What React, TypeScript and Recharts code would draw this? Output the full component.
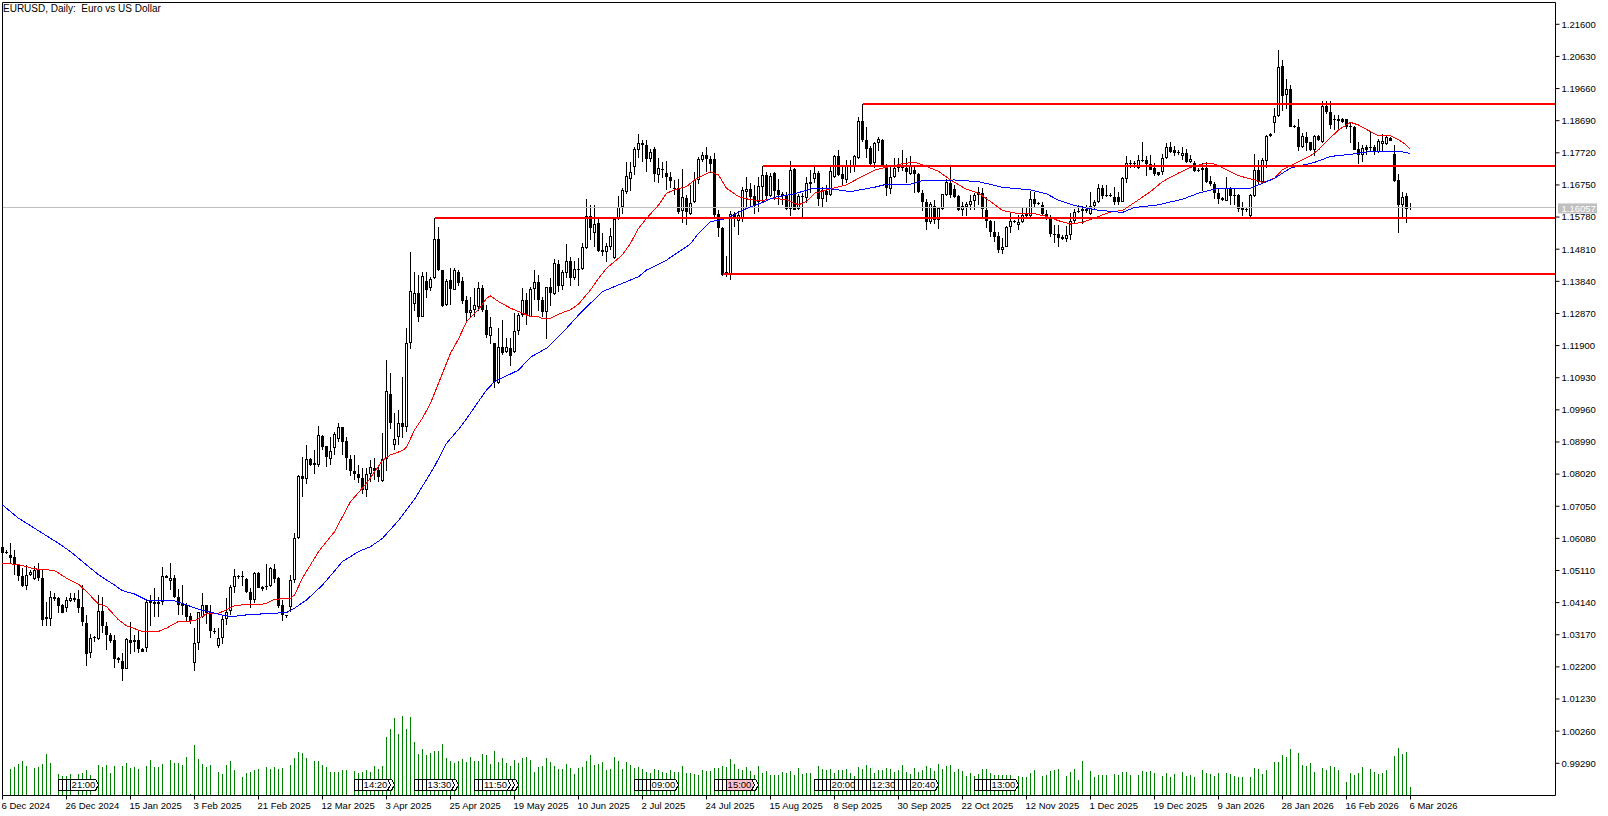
import React from 'react';
import { ComposedChart, Bar, Line, XAxis, YAxis, ReferenceLine, ReferenceDot } from 'recharts';

const FONT = '"Liberation Sans", Arial, sans-serif';

const opens = [
  1.0583,1.0568,1.0558,1.0551,1.0527,1.0495,1.0465,1.0497,1.0485,1.0511,
  1.0487,1.0372,1.0366,1.0431,1.0427,1.0407,1.0399,1.0420,1.0427,1.0426,
  1.0400,1.0352,1.0261,1.0310,1.0303,1.0389,1.0344,1.0315,1.0301,1.0246,
  1.0237,1.0215,1.0301,1.0301,1.0301,1.0275,1.0278,1.0422,1.0417,1.0417,
  1.0417,1.0495,1.0478,1.0488,1.0430,1.0412,1.0407,1.0374,1.0231,1.0293,
  1.0370,1.0406,1.0387,1.0329,1.0284,1.0307,1.0364,1.0390,1.0462,1.0494,
  1.0491,1.0486,1.0447,1.0422,1.0503,1.0460,1.0463,1.0464,1.0516,1.0488,
  1.0406,1.0376,1.0402,1.0483,1.0608,1.0795,1.0787,1.0848,1.0829,1.0831,
  1.0917,1.0887,1.0849,1.0880,1.0909,1.0943,1.0902,1.0848,1.0812,1.0802,
  1.0790,1.0753,1.0802,1.0821,1.0815,1.0781,1.0847,1.1044,1.0891,1.0913,
  1.0955,1.0943,1.1197,1.1315,1.1348,1.1277,1.1385,1.1363,1.1395,1.1512,
  1.1418,1.1314,1.1388,1.1359,1.1412,1.1384,1.1328,1.1288,1.1298,1.1308,
  1.1365,1.1298,1.1220,1.1197,1.1076,1.1185,1.1170,1.1183,1.1172,1.1233,
  1.1281,1.1328,1.1277,1.1362,1.1381,1.1328,1.1290,1.1366,1.1346,1.1435,
  1.1371,1.1410,1.1444,1.1395,1.1419,1.1420,1.1484,1.1581,1.1531,1.1559,
  1.1478,1.1474,1.1489,1.1453,1.1571,1.1607,1.1655,1.1693,1.1728,1.1782,
  1.1801,1.1796,1.1753,1.1785,1.1705,1.1722,1.1710,1.1700,1.1667,1.1665,
  1.1596,1.1637,1.1587,1.1625,1.1690,1.1750,1.1765,1.1752,1.1753,1.1586,
  1.1544,1.1403,1.1406,1.1586,1.1567,1.1571,1.1655,1.1663,1.1642,1.1625,
  1.1670,1.1705,1.1642,1.1712,1.1660,1.1648,1.1645,1.1602,1.1724,1.1602,
  1.1643,1.1635,1.1683,1.1692,1.1710,1.1633,1.1657,1.1645,1.1700,1.1763,
  1.1708,1.1690,1.1736,1.1729,1.1756,1.1867,1.1811,1.1786,1.1741,1.1801,
  1.1811,1.1736,1.1664,1.1698,1.1729,1.1729,1.1726,1.1708,1.1721,1.1708,
  1.1650,1.1623,1.1562,1.1610,1.1568,1.1603,1.1645,1.1680,1.1663,1.1642,
  1.1598,1.1607,1.1615,1.1627,1.1645,1.1652,1.1600,1.1565,1.1534,1.1521,
  1.1479,1.1489,1.1547,1.1567,1.1553,1.1563,1.1582,1.1582,1.1632,1.1620,
  1.1615,1.1587,1.1577,1.1526,1.1527,1.1519,1.1513,1.1523,1.1565,1.1597,
  1.1595,1.1601,1.1588,1.1610,1.1622,1.1665,1.1646,1.1646,1.1640,1.1638,
  1.1625,1.1692,1.1737,1.1740,1.1727,1.1751,1.1751,1.1739,1.1725,1.1713,
  1.1713,1.1755,1.1789,1.1780,1.1775,1.1761,1.1771,1.1743,1.1741,1.1721,
  1.1719,1.1727,1.1687,1.1678,1.1650,1.1635,1.1628,1.1665,1.1646,1.1645,
  1.1605,1.1601,1.1580,1.1643,1.1721,1.1685,1.1746,1.1823,1.1861,1.1882,
  1.2033,1.1946,1.1964,1.1853,1.1849,1.1789,1.1821,1.1804,1.1779,1.1823,
  1.1806,1.1914,1.1896,1.1874,1.1874,1.1875,1.1874,1.1853,1.1849,1.1783,
  1.1766,1.1789,1.1791,1.1791,1.1773,1.1799,1.1799,1.1818,1.1769,1.1690,1.1614,1.1641,1.1608,
];

const closes = [
  1.0563,1.0563,1.0548,1.0527,1.0493,1.0464,1.0497,1.0505,1.0511,1.0488,
  1.0362,1.0364,1.0430,1.0424,1.0404,1.0384,1.0422,1.0427,1.0422,1.0399,
  1.0356,1.0260,1.0307,1.0306,1.0389,1.0344,1.0315,1.0298,1.0245,1.0241,
  1.0215,1.0303,1.0293,1.0296,1.0275,1.0266,1.0416,1.0412,1.0410,1.0410,
  1.0495,1.0488,1.0488,1.0430,1.0407,1.0404,1.0372,1.0358,1.0293,1.0386,
  1.0406,1.0382,1.0328,1.0327,1.0307,1.0364,1.0387,1.0460,1.0494,1.0491,
  1.0495,1.0447,1.0422,1.0503,1.0459,1.0456,1.0465,1.0518,1.0486,1.0404,
  1.0377,1.0374,1.0483,1.0608,1.0795,1.0787,1.0847,1.0830,1.0835,1.0919,
  1.0885,1.0853,1.0873,1.0923,1.0943,1.0900,1.0850,1.0810,1.0801,1.0789,
  1.0754,1.0802,1.0823,1.0811,1.0792,1.0847,1.1052,1.0955,1.0907,1.0955,
  1.0945,1.1197,1.1356,1.1348,1.1277,1.1400,1.1358,1.1390,1.1511,1.1418,
  1.1310,1.1384,1.1360,1.1418,1.1380,1.1326,1.1288,1.1298,1.1312,1.1365,
  1.1296,1.1222,1.1245,1.1081,1.1185,1.1169,1.1185,1.1160,1.1233,1.1282,
  1.1327,1.1282,1.1360,1.1381,1.1328,1.1290,1.1366,1.1348,1.1438,1.1371,
  1.1413,1.1444,1.1393,1.1420,1.1420,1.1487,1.1581,1.1544,1.1556,1.1476,
  1.1474,1.1490,1.1520,1.1571,1.1607,1.1660,1.1702,1.1713,1.1785,1.1803,
  1.1797,1.1752,1.1773,1.1707,1.1725,1.1720,1.1700,1.1688,1.1663,1.1594,
  1.1638,1.1594,1.1619,1.1690,1.1752,1.1765,1.1752,1.1738,1.1584,1.1544,
  1.1403,1.1413,1.1586,1.1574,1.1584,1.1660,1.1663,1.1640,1.1614,1.1673,
  1.1705,1.1642,1.1702,1.1658,1.1645,1.1642,1.1602,1.1721,1.1600,1.1642,
  1.1638,1.1680,1.1678,1.1710,1.1633,1.1660,1.1645,1.1718,1.1763,1.1705,
  1.1692,1.1736,1.1733,1.1763,1.1867,1.1811,1.1784,1.1739,1.1801,1.1813,
  1.1736,1.1665,1.1698,1.1726,1.1725,1.1725,1.1713,1.1736,1.1708,1.1655,
  1.1622,1.1562,1.1617,1.1568,1.1605,1.1647,1.1685,1.1645,1.1640,1.1598,
  1.1610,1.1617,1.1626,1.1645,1.1653,1.1602,1.1565,1.1534,1.1519,1.1479,
  1.1487,1.1549,1.1567,1.1562,1.1563,1.1585,1.1588,1.1632,1.1617,1.1618,
  1.1587,1.1575,1.1526,1.1523,1.1516,1.1513,1.1524,1.1565,1.1593,1.1592,
  1.1603,1.1597,1.1610,1.1625,1.1665,1.1642,1.1643,1.1643,1.1625,1.1625,
  1.1697,1.1741,1.1740,1.1737,1.1750,1.1746,1.1739,1.1721,1.1709,1.1706,
  1.1756,1.1789,1.1774,1.1771,1.1771,1.1771,1.1743,1.1753,1.1716,1.1717,
  1.1726,1.1685,1.1678,1.1650,1.1632,1.1631,1.1665,1.1643,1.1643,1.1603,
  1.1598,1.1599,1.1645,1.1721,1.1685,1.1751,1.1823,1.1828,1.1882,1.2031,
  1.1945,1.1964,1.1851,1.1849,1.1791,1.1823,1.1801,1.1779,1.1823,1.1811,
  1.1914,1.1894,1.1856,1.1871,1.1869,1.1865,1.1851,1.1849,1.1781,1.1766,
  1.1786,1.1781,1.1786,1.1773,1.1807,1.1809,1.1821,1.1809,1.1688,1.1614,1.1639,1.1602,1.16057,
];

const highs = [
  1.0585,1.0573,1.0595,1.0573,1.0531,1.0518,1.0528,1.0511,1.0525,1.0535,
  1.0513,1.0417,1.0450,1.0442,1.0432,1.0410,1.0432,1.0444,1.0442,1.0452,
  1.0467,1.0377,1.0320,1.0314,1.0437,1.0432,1.0357,1.0322,1.0317,1.0251,
  1.0261,1.0307,1.0357,1.0317,1.0332,1.0276,1.0422,1.0437,1.0457,1.0432,
  1.0523,1.0498,1.0533,1.0498,1.0454,1.0467,1.0412,1.0382,1.0337,1.0387,
  1.0442,1.0408,1.0407,1.0337,1.0337,1.0377,1.0429,1.0467,1.0515,1.0498,
  1.0508,1.0488,1.0457,1.0505,1.0505,1.0464,1.0530,1.0523,1.0531,1.0491,
  1.0422,1.0377,1.0498,1.0623,1.0798,1.0855,1.0890,1.0852,1.0875,1.0947,
  1.0920,1.0887,1.0913,1.0930,1.0955,1.0945,1.0915,1.0860,1.0860,1.0830,
  1.0820,1.0820,1.0845,1.0850,1.0825,1.0925,1.1147,1.1106,1.0986,1.0996,
  1.1094,1.1242,1.1474,1.1413,1.1403,1.1411,1.1413,1.1398,1.1576,1.1547,
  1.1419,1.1390,1.1423,1.1423,1.1418,1.1398,1.1341,1.1338,1.1363,1.1381,
  1.1373,1.1313,1.1277,1.1199,1.1242,1.1267,1.1212,1.1212,1.1288,1.1288,
  1.1363,1.1348,1.1368,1.1418,1.1403,1.1338,1.1368,1.1393,1.1450,1.1448,
  1.1418,1.1497,1.1457,1.1444,1.1453,1.1501,1.1632,1.1614,1.1614,1.1579,
  1.1529,1.1501,1.1544,1.1579,1.1642,1.1665,1.1745,1.1745,1.1791,1.1828,
  1.1811,1.1811,1.1785,1.1789,1.1755,1.1745,1.1748,1.1715,1.1690,1.1692,
  1.1722,1.1645,1.1675,1.1715,1.1760,1.1773,1.1789,1.1762,1.1772,1.1599,
  1.1549,1.1461,1.1597,1.1594,1.1597,1.1670,1.1698,1.1680,1.1675,1.1700,
  1.1732,1.1715,1.1710,1.1715,1.1692,1.1655,1.1653,1.1746,1.1726,1.1648,
  1.1650,1.1700,1.1721,1.1729,1.1716,1.1668,1.1675,1.1731,1.1766,1.1781,
  1.1733,1.1749,1.1749,1.1766,1.1880,1.1920,1.1849,1.1793,1.1806,1.1821,
  1.1813,1.1739,1.1736,1.1756,1.1756,1.1781,1.1756,1.1761,1.1736,1.1710,
  1.1660,1.1632,1.1625,1.1630,1.1608,1.1648,1.1692,1.1731,1.1675,1.1645,
  1.1625,1.1622,1.1645,1.1652,1.1668,1.1665,1.1640,1.1570,1.1565,1.1534,
  1.1514,1.1552,1.1592,1.1568,1.1585,1.1605,1.1605,1.1658,1.1655,1.1625,
  1.1625,1.1600,1.1585,1.1555,1.1555,1.1524,1.1552,1.1590,1.1603,1.1615,
  1.1610,1.1615,1.1653,1.1630,1.1678,1.1675,1.1675,1.1650,1.1670,1.1655,
  1.1699,1.1763,1.1751,1.1746,1.1766,1.1806,1.1761,1.1766,1.1741,1.1715,
  1.1769,1.1801,1.1806,1.1793,1.1781,1.1789,1.1783,1.1766,1.1746,1.1726,
  1.1741,1.1743,1.1703,1.1685,1.1665,1.1640,1.1699,1.1670,1.1665,1.1648,
  1.1625,1.1605,1.1648,1.1769,1.1751,1.1756,1.1826,1.1833,1.1907,1.2083,
  1.2051,1.1994,1.1977,1.1856,1.1874,1.1831,1.1836,1.1806,1.1826,1.1825,
  1.1927,1.1929,1.1928,1.1887,1.1887,1.1877,1.1875,1.1862,1.1853,1.1806,
  1.1796,1.1796,1.1836,1.1796,1.1813,1.1828,1.1826,1.1821,1.1796,1.1708,1.1655,1.1650,1.1621,
];

const lows = [
  1.0561,1.0560,1.0533,1.0498,1.0480,1.0462,1.0452,1.0495,1.0483,1.0478,
  1.0344,1.0342,1.0342,1.0420,1.0382,1.0382,1.0387,1.0417,1.0417,1.0382,
  1.0344,1.0224,1.0246,1.0296,1.0301,1.0322,1.0271,1.0291,1.0216,1.0231,
  1.0176,1.0213,1.0259,1.0266,1.0263,1.0265,1.0266,1.0342,1.0372,1.0372,
  1.0406,1.0487,1.0452,1.0427,1.0377,1.0377,1.0360,1.0350,1.0209,1.0271,
  1.0367,1.0350,1.0307,1.0320,1.0277,1.0289,1.0347,1.0377,1.0444,1.0485,
  1.0464,1.0442,1.0397,1.0414,1.0457,1.0450,1.0452,1.0462,1.0472,1.0397,
  1.0360,1.0369,1.0387,1.0472,1.0606,1.0734,1.0772,1.0827,1.0803,1.0823,
  1.0875,1.0823,1.0830,1.0860,1.0900,1.0860,1.0813,1.0797,1.0784,1.0774,
  1.0742,1.0732,1.0779,1.0784,1.0779,1.0779,1.0810,1.0937,1.0875,1.0890,
  1.0910,1.0930,1.1180,1.1295,1.1262,1.1275,1.1335,1.1355,1.1390,1.1416,
  1.1308,1.1311,1.1313,1.1358,1.1370,1.1316,1.1265,1.1272,1.1277,1.1293,
  1.1291,1.1212,1.1195,1.1063,1.1073,1.1161,1.1167,1.1129,1.1167,1.1222,
  1.1277,1.1253,1.1275,1.1328,1.1293,1.1277,1.1209,1.1310,1.1343,1.1353,
  1.1358,1.1393,1.1370,1.1388,1.1371,1.1418,1.1481,1.1509,1.1489,1.1473,
  1.1459,1.1443,1.1479,1.1451,1.1569,1.1587,1.1648,1.1657,1.1705,1.1755,
  1.1745,1.1715,1.1745,1.1685,1.1680,1.1695,1.1660,1.1665,1.1645,1.1587,
  1.1559,1.1554,1.1584,1.1620,1.1678,1.1745,1.1715,1.1712,1.1579,1.1519,
  1.1400,1.1396,1.1388,1.1549,1.1524,1.1564,1.1609,1.1604,1.1586,1.1594,
  1.1625,1.1630,1.1640,1.1630,1.1614,1.1615,1.1600,1.1582,1.1598,1.1598,
  1.1578,1.1620,1.1650,1.1680,1.1610,1.1605,1.1625,1.1642,1.1695,1.1702,
  1.1675,1.1680,1.1710,1.1713,1.1753,1.1806,1.1756,1.1736,1.1726,1.1776,
  1.1729,1.1642,1.1648,1.1695,1.1713,1.1716,1.1680,1.1705,1.1650,1.1650,
  1.1595,1.1539,1.1558,1.1558,1.1541,1.1600,1.1642,1.1635,1.1635,1.1595,
  1.1580,1.1582,1.1600,1.1600,1.1615,1.1578,1.1545,1.1519,1.1504,1.1471,
  1.1467,1.1487,1.1529,1.1560,1.1539,1.1560,1.1575,1.1575,1.1605,1.1615,
  1.1580,1.1570,1.1517,1.1501,1.1489,1.1509,1.1502,1.1509,1.1558,1.1590,
  1.1557,1.1590,1.1585,1.1598,1.1620,1.1632,1.1638,1.1640,1.1615,1.1613,
  1.1623,1.1682,1.1726,1.1726,1.1723,1.1743,1.1703,1.1719,1.1701,1.1703,
  1.1706,1.1753,1.1771,1.1763,1.1766,1.1751,1.1741,1.1741,1.1713,1.1715,
  1.1657,1.1682,1.1672,1.1632,1.1617,1.1628,1.1626,1.1613,1.1615,1.1592,
  1.1582,1.1594,1.1578,1.1640,1.1678,1.1680,1.1726,1.1821,1.1833,1.1880,
  1.1897,1.1904,1.1849,1.1846,1.1776,1.1786,1.1776,1.1776,1.1763,1.1809,
  1.1803,1.1890,1.1843,1.1841,1.1843,1.1862,1.1843,1.1801,1.1779,1.1739,
  1.1743,1.1766,1.1776,1.1766,1.1771,1.1773,1.1796,1.1807,1.1685,1.1529,1.1579,1.1559,1.1599,
];

const volumes = [
  0,0,79,85,96,103,88,0,82,85,
  94,124,97,0,64,60,60,64,0,64,
  68,76,61,0,91,85,91,68,88,0,
  88,97,82,85,80,0,88,106,85,85,
  94,0,106,97,97,91,115,6,151,109,
  94,85,91,0,70,64,91,103,76,0,
  55,67,70,76,79,0,85,79,85,80,
  82,0,91,112,130,127,112,0,103,103,
  91,85,70,70,70,76,76,0,73,67,
  70,78,70,88,80,88,175,199,232,184,
  238,199,235,160,124,139,121,127,133,133,
  154,112,103,97,103,109,100,115,103,103,
  124,121,94,133,100,112,97,88,106,97,
  112,115,106,70,85,88,112,100,88,79,
  79,94,82,64,82,85,103,121,91,94,
  100,76,79,115,103,79,100,91,82,85,
  79,70,67,79,76,70,67,76,70,70,
  88,67,67,64,61,76,73,73,82,82,
  88,85,109,94,79,76,85,73,61,88,
  67,73,61,61,61,70,67,73,61,82,
  64,67,67,46,88,79,76,79,67,76,
  76,79,67,58,85,79,91,82,67,76,
  76,82,79,70,76,91,70,64,82,70,
  76,88,82,73,94,79,88,91,70,79,
  73,58,67,58,64,79,79,67,61,61,
  61,61,61,50,58,55,55,67,76,0,
  58,61,73,76,79,0,58,70,79,46,
  103,0,73,55,61,61,61,0,64,61,
  70,70,61,0,61,73,70,73,67,0,
  58,67,55,64,0,70,58,61,55,0,
  76,67,64,58,67,0,67,64,58,55,
  55,0,55,82,79,64,76,0,100,100,
  121,115,139,0,127,91,88,97,70,0,
  82,76,88,85,76,0,40,67,61,67,
  85,0,79,70,64,67,76,0,118,142,124,130,25,
];

// moving averages at the bars listed in the index arrays
const fastMaBars = [
  0,4,8,13,16,19,21,24,26,29,31,35,39,41,44,48,51,54,56,58,61,64,66,68,72,73,75,79,83,87,91,95,97,100,101,103,105,107,109,112,114,116,119,121,122,124,127,130,132,134,135,137,139,142,144,147,149,151,155,157,159,161,164,166,168,171,173,177,179,181,184,187,190,193,196,199,201,203,206,211,214,218,222,225,228,230,234,237,241,244,247,250,254,258,261,264,267,270,274,277,280,284,287,290,294,297,301,303,306,309,313,315,318,320,323,327,329,331,334,337,339,342,344,347,349,351,352,
];
const fastMaValues = [
  1.0533,1.0529,1.0516,1.0511,1.0488,1.0470,1.0447,1.0410,1.0402,1.0362,1.0344,1.0327,1.0327,1.0337,1.0357,1.0359,1.0380,1.0382,1.0392,1.0404,1.0409,1.0407,1.0412,1.0424,1.0427,1.0437,1.0488,1.0568,1.0628,1.0719,1.0774,1.0843,1.0860,1.0873,1.0883,1.0935,1.0971,1.1016,1.1076,1.1167,1.1210,1.1262,1.1298,1.1333,1.1340,1.1323,1.1303,1.1288,1.1277,1.1277,1.1271,1.1272,1.1285,1.1298,1.1315,1.1358,1.1393,1.1423,1.1464,1.1499,1.1544,1.1574,1.1614,1.1650,1.1660,1.1670,1.1690,1.1715,1.1705,1.1665,1.1640,1.1630,1.1628,1.1635,1.1630,1.1615,1.1625,1.1650,1.1660,1.1675,1.1695,1.1720,1.1731,1.1739,1.1744,1.1736,1.1716,1.1690,1.1662,1.1650,1.1625,1.1598,1.1588,1.1588,1.1580,1.1567,1.1557,1.1562,1.1580,1.1593,1.1598,1.1630,1.1655,1.1685,1.1711,1.1728,1.1741,1.1738,1.1721,1.1703,1.1690,1.1682,1.1695,1.1721,1.1739,1.1763,1.1781,1.1806,1.1841,1.1864,1.1856,1.1836,1.1823,1.1824,1.1812,1.1795,1.1782,
];
const slowMaBars = [
  0,4,9,14,17,20,24,28,30,33,36,43,46,49,53,57,61,65,71,73,76,80,85,89,92,95,99,103,108,111,114,116,121,123,129,132,136,141,144,147,150,154,159,161,166,172,174,177,181,186,190,193,198,202,207,212,218,221,227,230,238,244,250,257,261,264,268,273,280,283,289,295,299,304,312,318,322,328,332,338,342,349,352,
];
const slowMaValues = [
  1.0709,1.0669,1.0631,1.0593,1.0568,1.0538,1.0498,1.0467,1.0450,1.0440,1.0422,1.0419,1.0407,1.0394,1.0382,1.0371,1.0377,1.0380,1.0384,1.0397,1.0422,1.0467,1.0538,1.0568,1.0583,1.0608,1.0662,1.0726,1.0825,1.0895,1.0937,1.0969,1.1056,1.1081,1.1116,1.1155,1.1182,1.1242,1.1282,1.1318,1.1353,1.1373,1.1398,1.1418,1.1448,1.1497,1.1529,1.1564,1.1574,1.1604,1.1622,1.1638,1.1648,1.1663,1.1663,1.1655,1.1668,1.1677,1.1677,1.1688,1.1690,1.1685,1.1668,1.1660,1.1648,1.1629,1.1613,1.1600,1.1592,1.1607,1.1615,1.1632,1.1650,1.1665,1.1665,1.1695,1.1726,1.1743,1.1761,1.1769,1.1776,1.1777,1.1770,
];

const dateTicks = [0,16,32,48,64,80,96,112,128,144,160,176,192,208,224,240,256,272,288,304,320,336,352];
const dateLabels = [
  '6 Dec 2024','26 Dec 2024','15 Jan 2025','3 Feb 2025','21 Feb 2025','12 Mar 2025','3 Apr 2025','25 Apr 2025',
  '19 May 2025','10 Jun 2025','2 Jul 2025','24 Jul 2025','15 Aug 2025','8 Sep 2025','30 Sep 2025','22 Oct 2025',
  '12 Nov 2025','1 Dec 2025','19 Dec 2025','9 Jan 2026','28 Jan 2026','16 Feb 2026','6 Mar 2026',
];
const priceTicks = [
  1.216,1.2063,1.1966,1.1869,1.1772,1.1675,1.1578,1.1481,1.1384,1.1287,1.119,1.1093,
  1.0996,1.0899,1.0802,1.0705,1.0608,1.0511,1.0414,1.0317,1.022,1.0123,1.0026,0.9929,
];

// horizontal levels: first bar, price
const levelBars = [215, 190, 108, 180];
const levelPrices = [1.19194, 1.17322, 1.15761, 1.14062];

const LAST_PRICE = 1.16057;
const PRICE_DOMAIN = [0.98317, 1.22258];
const BAR_DOMAIN = [0, 388.25];
const VOLUME_DOMAIN = [0, 2379];

// calendar flags at the bottom, in the order they overlap
const flagBars = [14,15,16,17, 91,88,89,90, 107,103,104,105,106, 122,121,118,119,120, 158,159,160,161,162, 182,178,179,180,181, 203,204,205,206,207, 213,214,215,216,217, 223,224,225,226,227, 243,244,245,246,247];
const flagTexts: Record<number, string> = { 17: '21:00', 90: '14:20', 106: '13:30', 120: '11:50', 162: '09:00', 181: '15:00', 207: '20:00', 217: '12:30', 227: '20:40', 247: '13:00' };
const flagFills: Record<number, string> = { 16: '#c8f4f4', 159: '#c8f4f4', 181: '#ffc0cb' };

const lookup = (bars: number[], values: number[]) => {
  const out: Record<number, number> = {};
  bars.forEach((b, k) => { out[b] = values[k]; });
  return out;
};
const fastByBar = lookup(fastMaBars, fastMaValues);
const slowByBar = lookup(slowMaBars, slowMaValues);

const rows = opens.map((open, i) => ({
  bar: i,
  open,
  close: closes[i],
  high: highs[i],
  low: lows[i],
  volume: volumes[i] || null,
  fast: fastByBar[i] ?? null,
  slow: slowByBar[i] ?? null,
}));

const Candle = (props: any) => {
  const { x, y, width, height, payload } = props;
  const { open, close, high, low } = payload;
  const cx = x + width / 2;
  const k = height / (high - low);
  const top = Math.round(y);
  const bottom = Math.round(y + height);
  const bodyTop = Math.round(y + (high - Math.max(open, close)) * k);
  const bodyBottom = Math.max(Math.round(y + (high - Math.min(open, close)) * k), bodyTop + 1);
  const up = close > open;
  return (
    <g shapeRendering="crispEdges">
      <rect x={cx - 0.5} y={top} width={1} height={Math.max(bottom - top, 1)} fill="#000" />
      {up && bodyBottom - bodyTop > 2 ? (
        <rect x={cx - 1} y={bodyTop + 0.5} width={2} height={bodyBottom - bodyTop - 1} fill="#fff" stroke="#000" strokeWidth={1} />
      ) : (
        <rect x={cx - 1.5} y={bodyTop} width={3} height={bodyBottom - bodyTop} fill="#000" />
      )}
    </g>
  );
};

const DateTick = (props: any) => {
  const { x, y, payload } = props;
  const label = dateLabels[dateTicks.indexOf(payload.value)];
  return <text x={x - 1} y={y + 7} fontFamily={FONT} fontSize={9.5} fill="#000" textAnchor="start">{label}</text>;
};

const Flag = (props: any) => {
  const { cx, cy, bar } = props;
  const l = cx;
  const t = cy - 5.5;
  const b = cy + 5.5;
  return (
    <g>
      <polygon
        points={`${l},${t} ${l + 25},${t} ${l + 28},${cy} ${l + 25},${b} ${l},${b}`}
        fill={flagFills[bar] || '#fff'}
        stroke="#000"
        strokeWidth={1}
        shapeRendering="crispEdges"
      />
      {flagTexts[bar] ? (
        <text x={l + 13} y={cy + 3.5} textAnchor="middle" fontFamily={FONT} fontSize={9.5} fill="#000">{flagTexts[bar]}</text>
      ) : null}
    </g>
  );
};

const LastPriceTag = (props: any) => {
  const { cx, cy } = props;
  return (
    <g>
      <rect x={cx + 2.5} y={cy - 4.5} width={39} height={10} fill="#c0c0c0" />
      <text x={cx + 6} y={cy + 4} fontFamily={FONT} fontSize={9.5} fill="#fff">{LAST_PRICE.toFixed(5)}</text>
    </g>
  );
};

export default function App() {
  return (
    <div style={{ position: 'absolute', left: 0, top: 0, width: 1608, height: 816, background: '#fff', overflow: 'hidden' }}>
      <ComposedChart width={1608} height={816} data={rows} margin={{ top: 2.5, right: 0, bottom: 0, left: 2.5 }}>
        <XAxis
          dataKey="bar"
          type="number"
          domain={BAR_DOMAIN}
          ticks={dateTicks}
          interval={0}
          height={20.5}
          stroke="#000"
          tickSize={4}
          tick={<DateTick />}
        />
        <XAxis xAxisId="vol" dataKey="bar" type="number" domain={BAR_DOMAIN} hide />
        <YAxis
          orientation="right"
          type="number"
          domain={PRICE_DOMAIN}
          ticks={priceTicks}
          interval={0}
          width={52.5}
          stroke="#000"
          tickSize={4}
          tickFormatter={(v: number) => v.toFixed(5)}
          tick={{ fontFamily: FONT, fontSize: 9.5, fill: '#000' }}
          allowDataOverflow
        />
        <YAxis yAxisId="vol" type="number" domain={VOLUME_DOMAIN} hide />

        <ReferenceLine y={LAST_PRICE} stroke="#c0c0c0" strokeWidth={1} shapeRendering="crispEdges" />
        <ReferenceLine y={PRICE_DOMAIN[1]} stroke="#000" strokeWidth={1} />
        <ReferenceLine x={BAR_DOMAIN[0]} stroke="#000" strokeWidth={1} />

        <Bar xAxisId="vol" yAxisId="vol" dataKey="volume" barSize={1} fill="#008000" isAnimationActive={false} shapeRendering="crispEdges" />
        <Bar dataKey={(d: any) => [d.low, d.high]} barSize={3} shape={<Candle />} isAnimationActive={false} />

        <Line dataKey="fast" stroke="#ff0000" strokeWidth={1} dot={false} connectNulls isAnimationActive={false} type="linear" shapeRendering="crispEdges" />
        <Line dataKey="slow" stroke="#0000ff" strokeWidth={1} dot={false} connectNulls isAnimationActive={false} type="linear" shapeRendering="crispEdges" />

        {levelBars.map((bar, k) => (
          <ReferenceLine
            key={bar}
            stroke="#ff0000"
            strokeWidth={2}
            shapeRendering="crispEdges"
            segment={[{ x: bar, y: levelPrices[k] }, { x: BAR_DOMAIN[1], y: levelPrices[k] }]}
          />
        ))}

        {flagBars.map((bar) => (
          <ReferenceDot key={bar} xAxisId="vol" yAxisId="vol" x={bar} y={32} shape={(p: any) => <Flag {...p} bar={bar} />} />
        ))}
        <ReferenceDot x={BAR_DOMAIN[1]} y={LAST_PRICE} shape={<LastPriceTag />} />
      </ComposedChart>
      <div style={{ position: 'absolute', left: 3, top: 3, fontFamily: FONT, fontSize: 10, lineHeight: '11px', color: '#000', whiteSpace: 'pre' }}>
        {'EURUSD, Daily:  Euro vs US Dollar'}
      </div>
    </div>
  );
}
